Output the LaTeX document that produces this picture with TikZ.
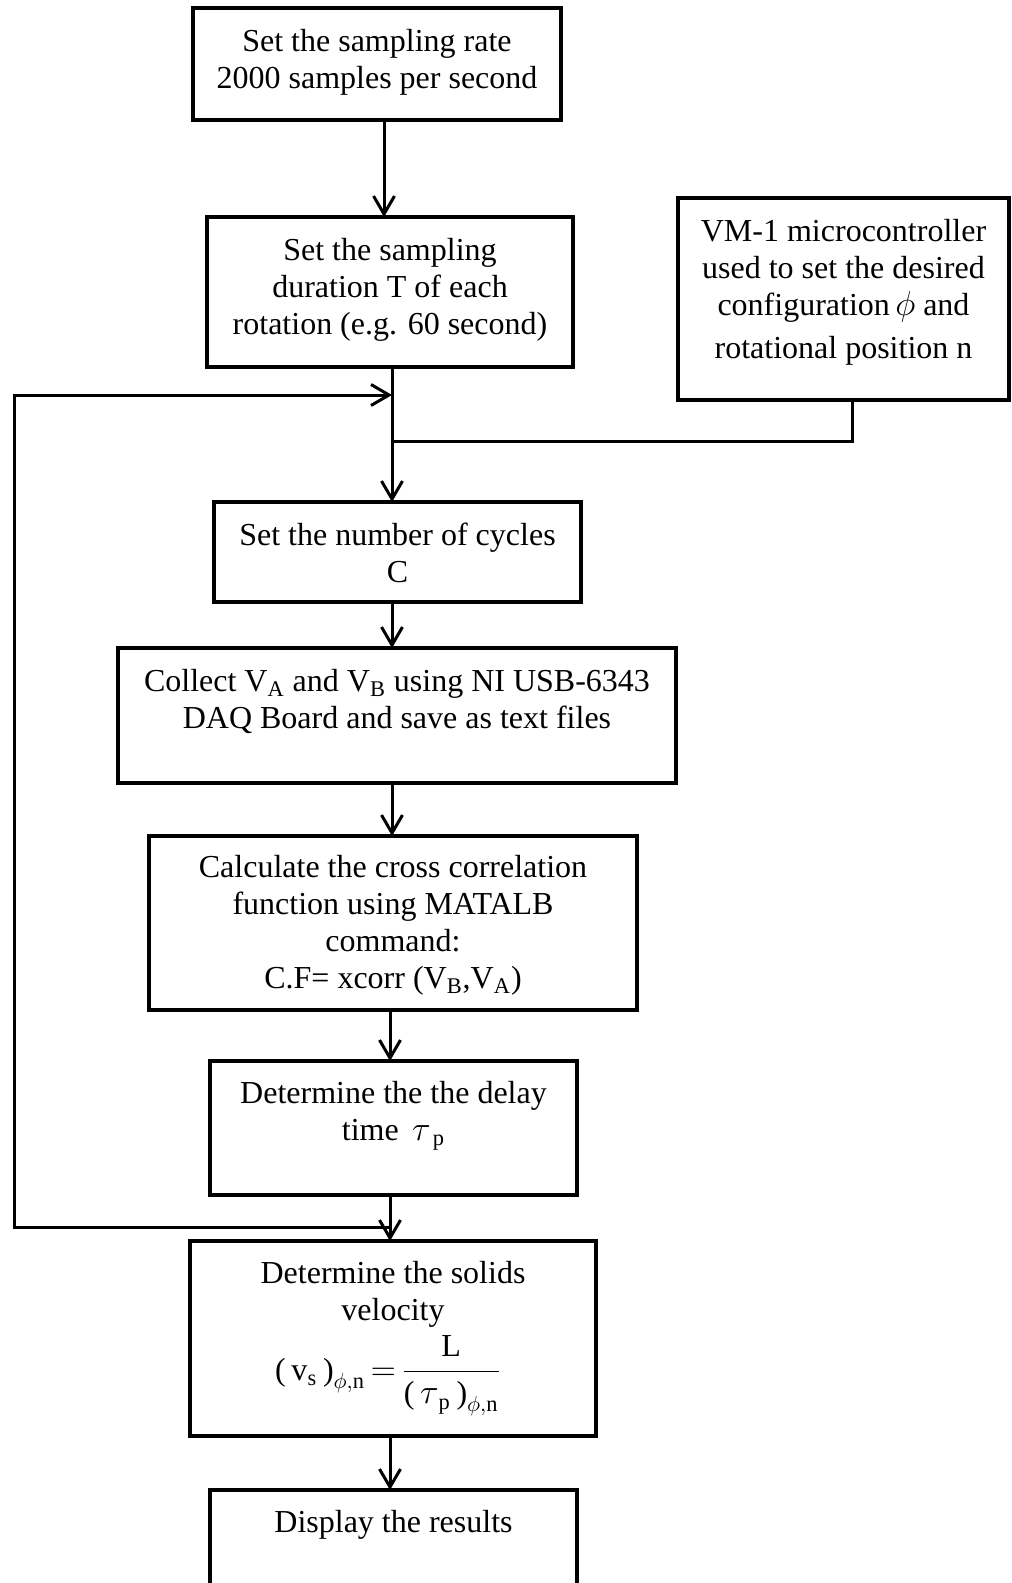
\documentclass[tikz,border=0pt]{standalone}
\usepackage{fontspec}
\setmainfont{Liberation Serif}
\usepackage{amsmath}
\usetikzlibrary{arrows.meta,fit}

\begin{document}
\begin{tikzpicture}[x=0.5pt,y=-0.5pt,
  box/.style={draw, rectangle, line width=2.4pt, inner sep=0pt, outer sep=0pt},
  boxtext/.style={anchor=north, align=center, inner sep=0pt,
    font=\fontsize{16}{18.5}\selectfont},
  link/.style={line width=1.5pt},
  flow/.style={link, -{Straight Barb[length=9pt,width=10.5pt]}}]

\useasboundingbox (0,0) rectangle (1011,1583);

% vertical columns of the flow
\coordinate (colA) at (384,0);
\coordinate (colB) at (392,0);
\coordinate (colC) at (390,0);

% process boxes
\node[box, fit={(193,8) (561,120)}]      (b1) {};
\node[box, fit={(207,217) (573,367)}]    (b2) {};
\node[box, fit={(678,198) (1009,400)}]   (vm) {};
\node[box, fit={(214,502) (581,602)}]    (b4) {};
\node[box, fit={(118,648) (676,783)}]    (b5) {};
\node[box, fit={(149,836) (637,1010)}]   (b6) {};
\node[box, fit={(210,1061) (577,1195)}]  (b7) {};
\node[box, fit={(190,1241) (596,1436)}]  (b8) {};
\node[box, fit={(210,1490) (577,1590)}]  (b9) {};

% box texts
\node[boxtext] (t1) at ([yshift=-10.5pt]b1.north)
  {Set the sampling rate\\2000 samples per second};
\node[boxtext] (t2) at ([yshift=-10.5pt]b2.north)
  {Set the sampling\\duration T of each\\rotation (e.g. 60 second)};
\node[boxtext] (tvm) at ([yshift=-10.5pt]vm.north)
  {VM-1 microcontroller\\used to set the desired\\configuration\,$\phi$ and\\[3pt]rotational position n};
\node[boxtext] (t4) at ([yshift=-10.5pt]b4.north)
  {Set the number of cycles\\C};
\node[boxtext] (t5) at ([yshift=-10.5pt]b5.north)
  {Collect V\textsubscript{A} and V\textsubscript{B} using NI USB-6343\\DAQ Board and save as text files};
\node[boxtext] (t6) at ([yshift=-9.5pt]b6.north)
  {Calculate the cross correlation\\function using MATALB\\command:\\C.F= xcorr (V\textsubscript{B},V\textsubscript{A})};
\node[boxtext] (t7) at ([yshift=-10pt]b7.north)
  {Determine the the delay\\time \,$\tau_{\;\text{p}}$};
\node[boxtext] (t8) at ([yshift=-10pt]b8.north)
  {Determine the solids\\velocity};
\node[inner sep=0pt, font=\fontsize{16}{18.5}\selectfont] (f8) at (388,1376)
  {\thickmuskip=3mu
   $\displaystyle \text{(}\,\text{v}_{\text{s}}\,\text{)}_{\phi,\text{n}}
    = \frac{\text{L}}{\text{(}\,\tau_{\,\text{p}}\,\text{)}_{\phi,\text{n}}}$};
\node[boxtext] (t9) at ([yshift=-10pt]b9.north)
  {Display the results};

% junction points of the side lines
\coordinate (vmjoin) at (852,441);
\coordinate (loopbot) at (14,1227);
\coordinate (looptop) at (14,395);

% main flow
\draw[flow] (b1.south -| colA) -- (b2.north -| colA);
\draw[flow] (b2.south -| colB) -- (b4.north -| colB);
\draw[flow] (b4.south -| colB) -- (b5.north -| colB);
\draw[flow] (b5.south -| colB) -- (b6.north -| colB);
\draw[flow] (b6.south -| colC) -- (b7.north -| colC);
\draw[flow] (b7.south -| colC) -- (b8.north -| colC);
\draw[flow] (b8.south -| colC) -- (b9.north -| colC);

% microcontroller feed
\draw[link] (vm.south -| vmjoin) -- (vmjoin) -- (vmjoin -| colB);

% return loop for the next rotation
\draw[flow] (loopbot -| colC) -- (loopbot) -- (looptop) -- (looptop -| colB);

\end{tikzpicture}
\end{document}
